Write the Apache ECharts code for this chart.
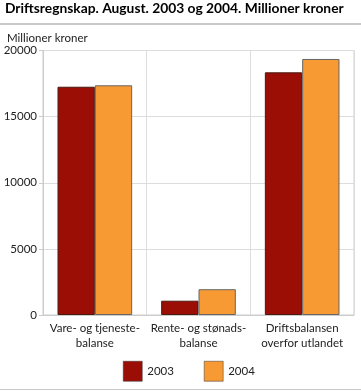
<!DOCTYPE html>
<html><head><meta charset="utf-8">
<script src="https://cdn.jsdelivr.net/npm/echarts@6/dist/echarts.min.js"></script>
<style>html,body{margin:0;padding:0;background:#fff}#c{width:361px;height:392px}</style>
</head><body><div id="c"></div>
<script>
const categories = ['Vare- og tjeneste-\nbalanse', 'Rente- og stønads-\nbalanse', 'Driftsbalansen\noverfor utlandet'];
const seriesNames = ['2003', '2004'];
const values2003 = [17260, 1080, 18350];
const values2004 = [17370, 1950, 19360];
const yTicks = [0, 5000, 10000, 15000, 20000];

const font = 'Lato, "Open Sans", sans-serif';
const chart = echarts.init(document.getElementById('c'), null, {renderer: 'canvas'});
chart.setOption({
  animation: false,
  textStyle: {fontFamily: font},
  title: {
    text: 'Driftsregnskap. August. 2003 og 2004. Millioner kroner',
    left: 5, top: 2, padding: 0,
    textStyle: {fontFamily: font, fontSize: 13.8, fontWeight: 'bold', color: '#000'}
  },
  graphic: [
    {type: 'rect', shape: {x: 0, y: 23, width: 361, height: 2}, style: {fill: '#c8c8c8'}},
    {type: 'rect', shape: {x: 0, y: 389, width: 361, height: 1}, style: {fill: '#c8c8c8'}},
    {type: 'text', left: 7, top: 32, style: {text: 'Millioner kroner', fontFamily: font, fontSize: 11.5, fill: '#222'}}
  ],
  legend: {
    data: seriesNames,
    left: 123, top: 361, padding: 0,
    itemWidth: 19, itemHeight: 20, itemGap: 30,
    icon: 'rect',
    itemStyle: {borderColor: '#333', borderWidth: 0.5},
    textStyle: {fontFamily: font, fontSize: 11.5, color: '#222'}
  },
  grid: {left: 43, right: 7, top: 50.5, bottom: 77, containLabel: false, show: true, borderColor: '#ccc', borderWidth: 1},
  xAxis: {
    type: 'category',
    data: categories,
    axisLine: {show: true, lineStyle: {color: '#ccc'}},
    axisTick: {show: false},
    splitLine: {show: true, lineStyle: {color: '#ddd'}},
    axisLabel: {fontFamily: font, fontSize: 11.5, color: '#222', lineHeight: 15, margin: 6, interval: 0}
  },
  yAxis: {
    type: 'value',
    min: 0, max: 20000, interval: 5000,
    axisLine: {show: true, lineStyle: {color: '#ccc'}},
    axisTick: {show: true, length: 4, lineStyle: {color: '#ccc'}},
    splitLine: {show: true, lineStyle: {color: '#ddd'}},
    axisLabel: {fontFamily: font, fontSize: 11.5, color: '#222', margin: 6,
      formatter: v => yTicks.includes(v) ? String(v) : ''}
  },
  series: [
    {name: seriesNames[0], type: 'bar', data: values2003, barGap: 0, barCategoryGap: '28%',
      itemStyle: {color: '#9a0e06', borderColor: '#4a1a10', borderWidth: 1}},
    {name: seriesNames[1], type: 'bar', data: values2004, barGap: 0, barCategoryGap: '28%',
      itemStyle: {color: '#f89a33', borderColor: '#666', borderWidth: 1}}
  ]
});
</script></body></html>
